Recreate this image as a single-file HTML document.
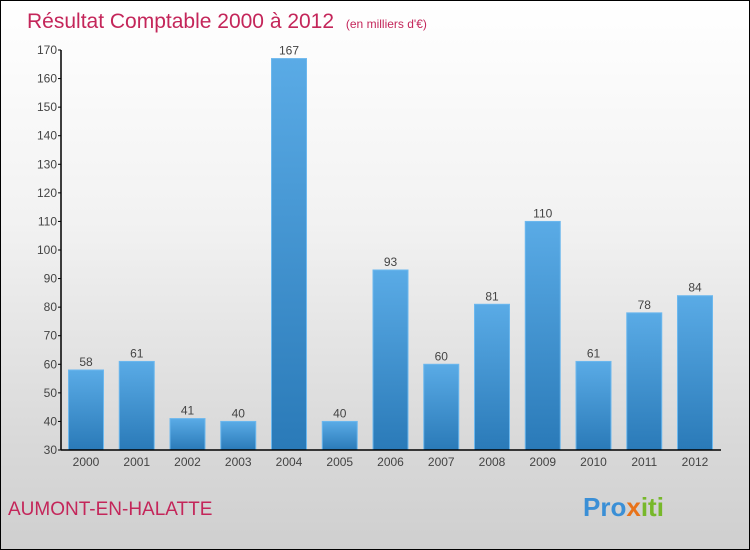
<!DOCTYPE html>
<html><head><meta charset="utf-8"><style>
body{margin:0;}
#c{width:748px;height:548px;border:1px solid #000;background:linear-gradient(#fff,#f2f2f2 40%,#d9d9d9 80%,#cfcfcf);position:relative;font-family:"Liberation Sans",sans-serif;overflow:hidden}
</style></head><body>
<div id="c">
<svg id="s" width="748" height="548">
<defs><linearGradient id="g" x1="0" y1="0" x2="0" y2="1"><stop offset="0" stop-color="#5aabe6"/><stop offset="1" stop-color="#2a7ab8"/></linearGradient></defs>
<text x="26" y="27" font-size="21" fill="#c4265a">Résultat Comptable 2000 à 2012 <tspan font-size="12" dx="6">(en milliers d'€)</tspan></text>
<text x="7" y="514" font-size="19" fill="#c4265a">AUMONT-EN-HALATTE</text>
<text x="582" y="515" font-size="26" font-weight="bold"><tspan fill="#3a8fd6">Pro</tspan><tspan fill="#e8731a">x</tspan><tspan fill="#77b82a">iti</tspan></text>
<g id="plot"></g>
</svg></div>
<script>
const years=["2000","2001","2002","2003","2004","2005","2006","2007","2008","2009","2010","2011","2012"];
const values=[58,61,41,40,167,40,93,60,81,110,61,78,84];
const ticks=[30,40,50,60,70,80,90,100,110,120,130,140,150,160,170];
const NS="http://www.w3.org/2000/svg";
const g=document.getElementById('plot');
const y0=449,ymin=30,ymax=170,ytop=49,x0=60;
const y=v=>y0-(v-ymin)/(ymax-ymin)*(y0-ytop);
const x=i=>85+i*50.75;
function mk(t,a){const e=document.createElementNS(NS,t);for(const k in a)e.setAttribute(k,a[k]);g.appendChild(e);return e;}
values.forEach((v,i)=>{
 const r=mk('rect',{x:x(i)-17.5,y:y(v),width:35,height:y0-y(v),fill:'url(#g)',stroke:'#6cb8ee','stroke-width':1});
 
 
 const t=mk('text',{x:x(i),y:y(v)-4,'text-anchor':'middle','font-size':12,fill:'#444'});
 t.textContent=v;
 
 
 const l=mk('text',{x:x(i),y:y0+16,'text-anchor':'middle','font-size':12,fill:'#444'});
 l.textContent=years[i];
 
 
});
ticks.forEach(v=>{
 const tk=mk('line',{x1:x0-3,x2:x0,y1:y(v),y2:y(v),stroke:'#000'});
 
 
 const t=mk('text',{x:x0-4,y:y(v)+4,'text-anchor':'end','font-size':12,fill:'#444'});
 t.textContent=v;
 
 
});
const ya=mk('line',{x1:x0,x2:x0,y1:ytop,y2:y0,stroke:'#000','stroke-width':1.5});


const xa=mk('line',{x1:x0,x2:720,y1:y0,y2:y0,stroke:'#000','stroke-width':1.5});


</script>
</body></html>
